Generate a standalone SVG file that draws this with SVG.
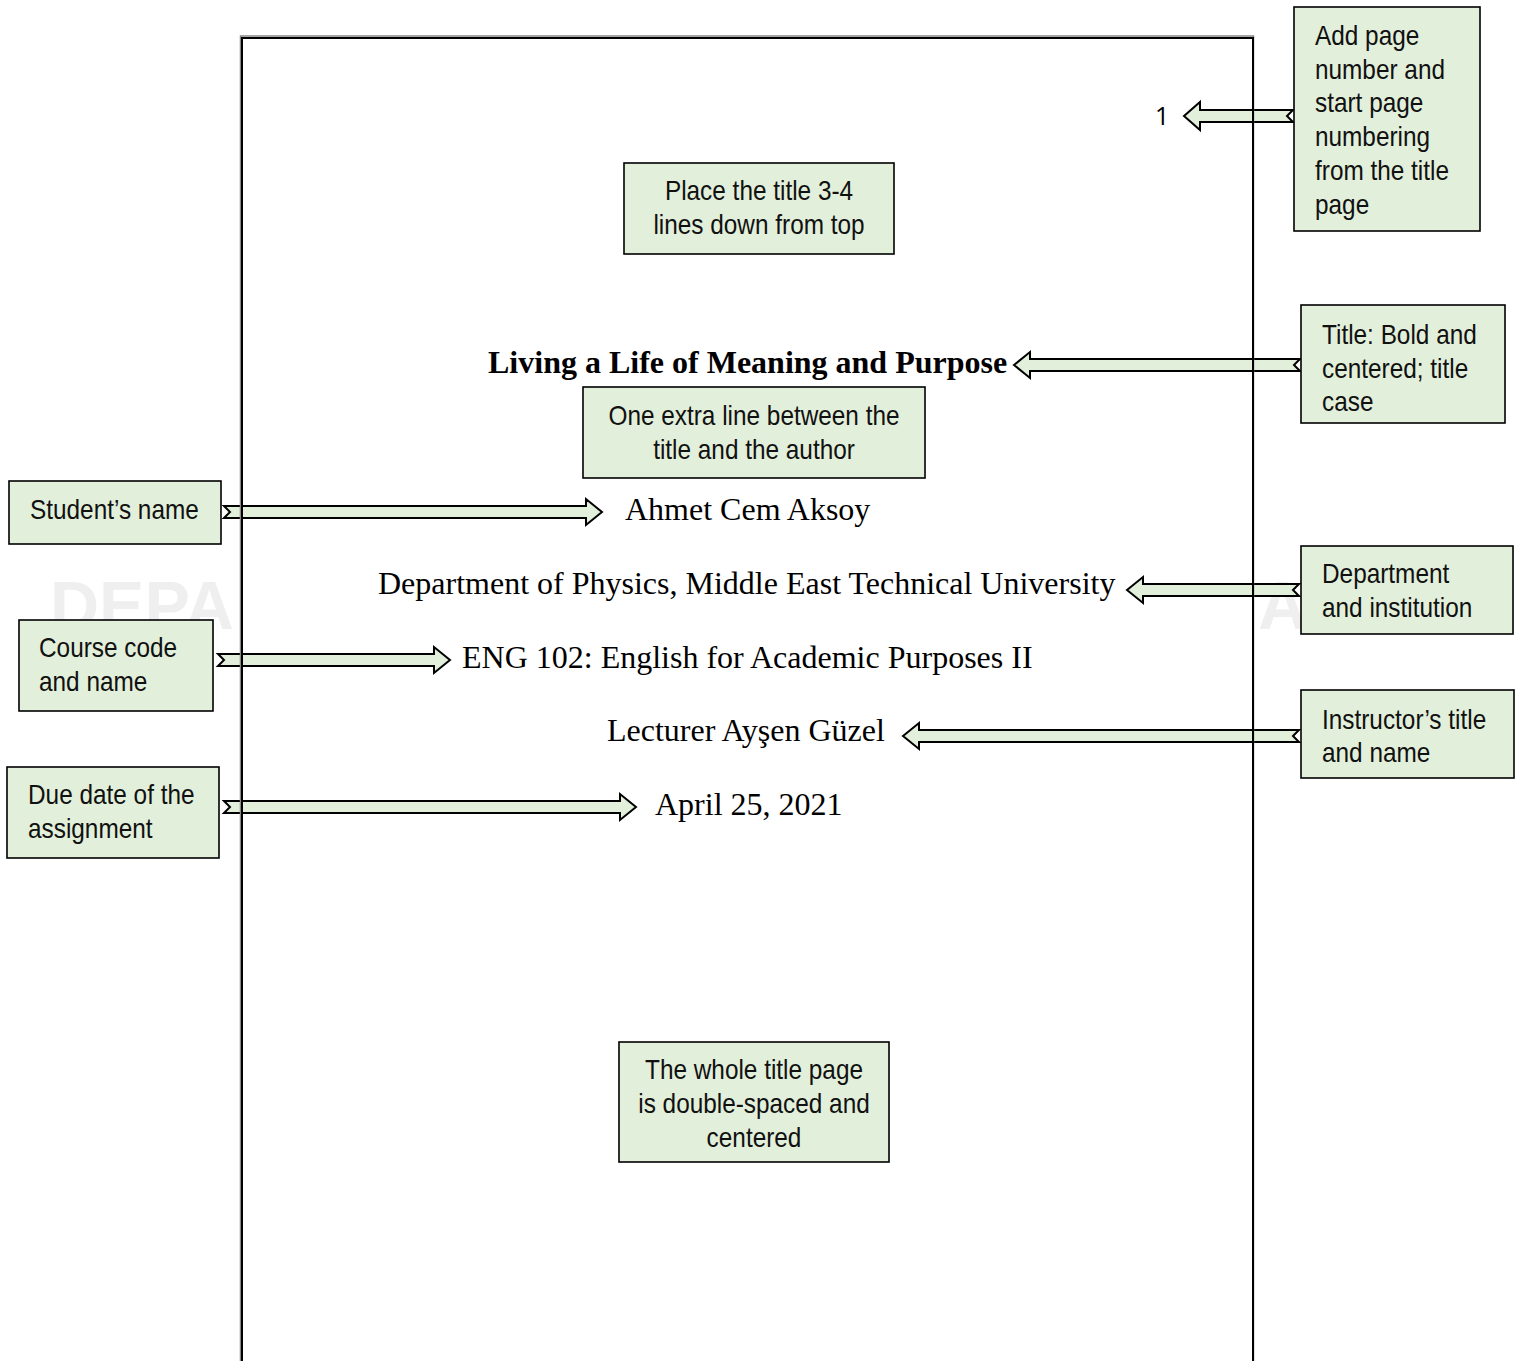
<svg xmlns="http://www.w3.org/2000/svg" width="1521" height="1361" viewBox="0 0 1521 1361">
<style>
.box{fill:#e2efda;stroke:#000;stroke-width:1.6}
.bt{font-family:"Liberation Sans",Arial,sans-serif;font-size:28px;fill:#111}
.c{text-anchor:middle}
.pt{font-family:"Liberation Serif","Times New Roman",serif;font-size:32px;fill:#000}
.arr{fill:#e2efda;stroke:#000;stroke-width:2;stroke-linejoin:miter}
.wm{font-family:"Liberation Sans",Arial,sans-serif;font-weight:bold;font-size:68px;fill:#efefef}
</style>
<rect width="1521" height="1361" fill="#fff"/>
<g id="watermark">
<text class="wm" x="50" y="629">DEPA</text>
<text class="wm" x="1258" y="629">A</text>
</g>
<g id="connectors">
<path class="arr" d="M1293,110 L1200,110 L1200,102 L1184,116 L1200,130 L1200,122 L1293,122 L1287,116 Z"/>
<path class="arr" d="M1300,359 L1030,359 L1030,352 L1014,365 L1030,378 L1030,371 L1300,371 L1294,365 Z"/>
<path class="arr" d="M224,506 L586,506 L586,499 L602,512 L586,525 L586,518 L224,518 L230,512 Z"/>
<path class="arr" d="M1299,584 L1143,584 L1143,577 L1127,590 L1143,603 L1143,596 L1299,596 L1293,590 Z"/>
<path class="arr" d="M218,654 L434,654 L434,647 L450,660 L434,673 L434,666 L218,666 L224,660 Z"/>
<path class="arr" d="M1299,730 L919,730 L919,723 L903,736 L919,749 L919,742 L1299,742 L1293,736 Z"/>
<path class="arr" d="M224,801 L620,801 L620,794 L636,807 L620,820 L620,813 L224,813 L230,807 Z"/>
</g>
<g id="page">
<path d="M240.5,1361 L240.5,36 L1253.5,36 L1253.5,1361" fill="none" stroke="#888" stroke-width="1.5"/>
<path d="M242,1361 L242,38 L1253,38 L1253,1361" fill="none" stroke="#000" stroke-width="2"/>
<text x="1155" y="125" font-family="'Open Sans','Liberation Sans',sans-serif" font-size="25" fill="#000">1</text>
<text class="pt" x="488" y="373" font-weight="bold">Living a Life of Meaning and Purpose</text>
<text class="pt" x="625" y="520">Ahmet Cem Aksoy</text>
<text class="pt" x="378" y="594">Department of Physics, Middle East Technical University</text>
<text class="pt" x="462" y="668">ENG 102: English for Academic Purposes II</text>
<text class="pt" x="607" y="741">Lecturer Ayşen Güzel</text>
<text class="pt" x="655" y="815">April 25, 2021</text>
</g>
<g id="node-page-number">
<rect class="box" x="1294" y="7" width="186" height="224"/>
<g transform="translate(1315,0) scale(0.87,1)"><text class="bt"><tspan x="0" y="45">Add page</tspan><tspan x="0" y="79">number and</tspan><tspan x="0" y="112">start page</tspan><tspan x="0" y="146">numbering</tspan><tspan x="0" y="180">from the title</tspan><tspan x="0" y="214">page</tspan></text></g>
</g>
<g id="node-place-title">
<rect class="box" x="624" y="163" width="270" height="91"/>
<g transform="translate(759,0) scale(0.87,1)"><text class="bt c"><tspan x="0" y="200">Place the title 3-4</tspan><tspan x="0" y="234">lines down from top</tspan></text></g>
</g>
<g id="node-title-bold">
<rect class="box" x="1301" y="305" width="204" height="118"/>
<g transform="translate(1322,0) scale(0.87,1)"><text class="bt"><tspan x="0" y="344">Title: Bold and</tspan><tspan x="0" y="378">centered; title</tspan><tspan x="0" y="411">case</tspan></text></g>
</g>
<g id="node-extra-line">
<rect class="box" x="583" y="387" width="342" height="91"/>
<g transform="translate(754,0) scale(0.87,1)"><text class="bt c"><tspan x="0" y="425">One extra line between the</tspan><tspan x="0" y="459">title and the author</tspan></text></g>
</g>
<g id="node-student">
<rect class="box" x="9" y="481" width="212" height="63"/>
<g transform="translate(30,0) scale(0.87,1)"><text class="bt" x="0" y="519">Student’s name</text></g>
</g>
<g id="node-department">
<rect class="box" x="1301" y="546" width="212" height="88"/>
<g transform="translate(1322,0) scale(0.87,1)"><text class="bt"><tspan x="0" y="583">Department</tspan><tspan x="0" y="617">and institution</tspan></text></g>
</g>
<g id="node-course">
<rect class="box" x="19" y="620" width="194" height="91"/>
<g transform="translate(39,0) scale(0.87,1)"><text class="bt"><tspan x="0" y="657">Course code</tspan><tspan x="0" y="691">and name</tspan></text></g>
</g>
<g id="node-instructor">
<rect class="box" x="1301" y="690" width="213" height="88"/>
<g transform="translate(1322,0) scale(0.87,1)"><text class="bt"><tspan x="0" y="729">Instructor’s title</tspan><tspan x="0" y="762">and name</tspan></text></g>
</g>
<g id="node-due-date">
<rect class="box" x="7" y="767" width="212" height="91"/>
<g transform="translate(28,0) scale(0.87,1)"><text class="bt"><tspan x="0" y="804">Due date of the</tspan><tspan x="0" y="838">assignment</tspan></text></g>
</g>
<g id="node-double-spaced">
<rect class="box" x="619" y="1042" width="270" height="120"/>
<g transform="translate(754,0) scale(0.87,1)"><text class="bt c"><tspan x="0" y="1079">The whole title page</tspan><tspan x="0" y="1113">is double-spaced and</tspan><tspan x="0" y="1147">centered</tspan></text></g>
</g>
</svg>
